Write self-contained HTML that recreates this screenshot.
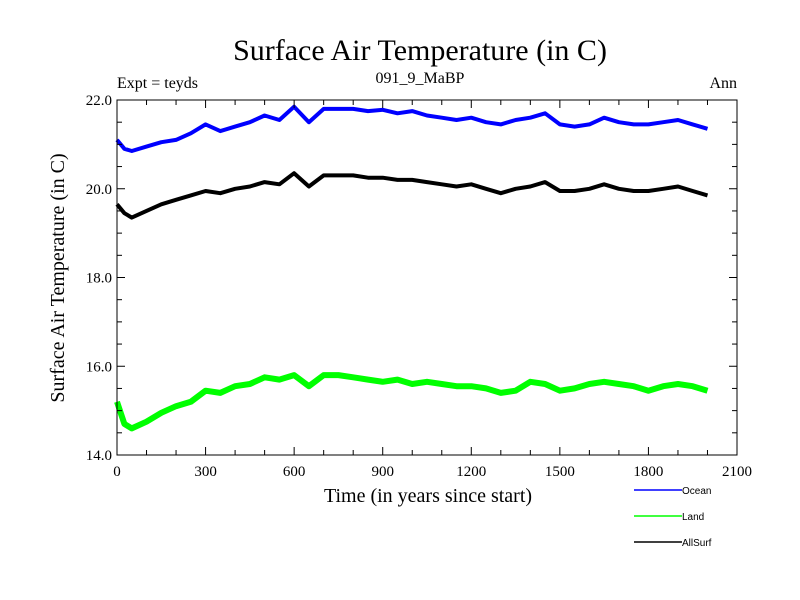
<!DOCTYPE html>
<html><head><meta charset="utf-8"><style>
body{margin:0;background:#fff;}
svg{display:block;}
.serif{font-family:"Liberation Serif",serif;}
.sans{font-family:"Liberation Sans",sans-serif;}
</style></head><body>
<svg id="chart" width="800" height="600" xmlns="http://www.w3.org/2000/svg">
<rect width="800" height="600" fill="#fff"/>
<text class="serif" x="420" y="60" font-size="30" text-anchor="middle">Surface Air Temperature (in C)</text>
<text class="serif" x="117" y="88" font-size="16">Expt = teyds</text>
<text class="serif" x="420" y="83" font-size="16" text-anchor="middle">091_9_MaBP</text>
<text class="serif" x="737" y="88" font-size="16" text-anchor="end">Ann</text>
<text class="serif" x="428" y="502" font-size="20" text-anchor="middle">Time (in years since start)</text>
<text class="serif" transform="translate(64,278) rotate(-90)" font-size="20" text-anchor="middle">Surface Air Temperature (in C)</text>
<g id="series"></g>
<g id="axes"></g>
<g id="legend"></g>
</svg>
<script>
const years = [0,25,50,100,150,200,250,300,350,400,450,500,550,600,650,700,750,800,850,900,950,1000,1050,1100,1150,1200,1250,1300,1350,1400,1450,1500,1550,1600,1650,1700,1750,1800,1850,1900,1950,2000];
const ocean = [21.1,20.9,20.85,20.95,21.05,21.1,21.25,21.45,21.3,21.4,21.5,21.65,21.55,21.85,21.5,21.8,21.8,21.8,21.75,21.78,21.7,21.75,21.65,21.6,21.55,21.6,21.5,21.45,21.55,21.6,21.7,21.45,21.4,21.45,21.6,21.5,21.45,21.45,21.5,21.55,21.45,21.35];
const land = [15.2,14.7,14.6,14.75,14.95,15.1,15.2,15.45,15.4,15.55,15.6,15.75,15.7,15.8,15.55,15.8,15.8,15.75,15.7,15.65,15.7,15.6,15.65,15.6,15.55,15.55,15.5,15.4,15.45,15.65,15.6,15.45,15.5,15.6,15.65,15.6,15.55,15.45,15.55,15.6,15.55,15.45];
const allsurf = [19.65,19.45,19.35,19.5,19.65,19.75,19.85,19.95,19.9,20.0,20.05,20.15,20.1,20.35,20.05,20.3,20.3,20.3,20.25,20.25,20.2,20.2,20.15,20.1,20.05,20.1,20.0,19.9,20.0,20.05,20.15,19.95,19.95,20.0,20.1,20.0,19.95,19.95,20.0,20.05,19.95,19.85];
const xTicks = [0,300,600,900,1200,1500,1800,2100];
const yTicks = [14.0,16.0,18.0,20.0,22.0];

const NS="http://www.w3.org/2000/svg";
const X0=117,X1=737,Y0=455,Y1=100;
function xs(t){return X0+(t/2100)*(X1-X0);}
function ys(v){return Y0-((v-14)/8)*(Y0-Y1);}
function mk(tag,attrs,parent){const e=document.createElementNS(NS,tag);for(const k in attrs)e.setAttribute(k,attrs[k]);parent.appendChild(e);return e;}

const sg=document.getElementById('series');
[[ocean,'#0000ff','ocean-line',4],[allsurf,'#000000','allsurf-line',4],[land,'#00ff00','land-line',6]].forEach(s=>{
  const d=years.map((t,i)=>(i?'L':'M')+xs(t).toFixed(1)+','+ys(s[0][i]).toFixed(1)).join(' ');
  const p=mk('path',{d:d,fill:'none',stroke:s[1],'stroke-width':s[3],'stroke-linejoin':'round'},sg);
  
  
});

const ag=document.getElementById('axes');
const frame=mk('rect',{x:X0,y:Y1,width:X1-X0,height:Y0-Y1,fill:'none',stroke:'#000','stroke-width':1},ag);


for(let t=0;t<=2100;t+=100){
  const L=(t%300===0)?8:5;
  mk('line',{x1:xs(t),x2:xs(t),y1:Y0,y2:Y0-L,stroke:'#000'},ag);
  mk('line',{x1:xs(t),x2:xs(t),y1:Y1,y2:Y1+L,stroke:'#000'},ag);
}
for(let v=14;v<=22.001;v+=0.5){
  const L=(Math.abs(v%2)<0.01)?8:5;
  mk('line',{x1:X0,x2:X0+L,y1:ys(v),y2:ys(v),stroke:'#000'},ag);
  mk('line',{x1:X1,x2:X1-L,y1:ys(v),y2:ys(v),stroke:'#000'},ag);
}
xTicks.forEach(t=>{
  const e=mk('text',{x:xs(t),y:476,'font-size':15,'text-anchor':'middle',class:'serif'},ag);
  e.textContent=String(t);
  
  
});
yTicks.forEach(v=>{
  const e=mk('text',{x:X0-5,y:ys(v)+5,'font-size':15,'text-anchor':'end',class:'serif'},ag);
  e.textContent=v.toFixed(1);
  
  
});

const lg=document.getElementById('legend');
[['Ocean','#0000ff',490],['Land','#00ff00',516],['AllSurf','#000000',542]].forEach(l=>{
  const g=mk('g',{},lg);
  
  
  mk('line',{x1:634,x2:682,y1:l[2],y2:l[2],stroke:l[1],'stroke-width':1.5},g);
  const t=mk('text',{x:682,y:l[2]+4,'font-size':10,class:'sans'},g);
  t.textContent=l[0];
});
</script>
</body></html>
